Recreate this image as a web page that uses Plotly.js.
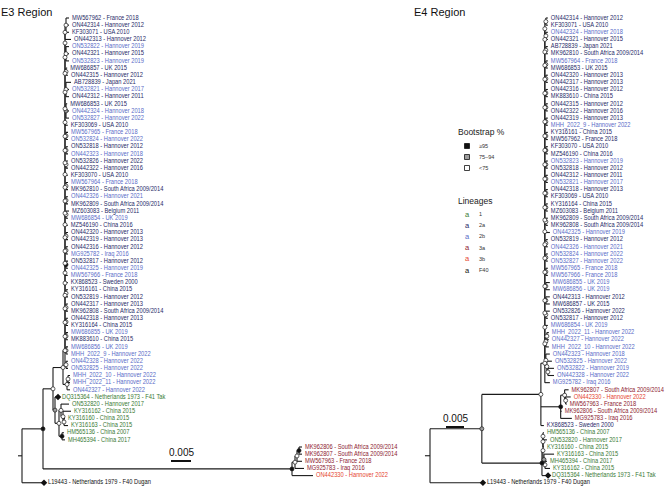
<!DOCTYPE html>
<html><head><meta charset="utf-8">
<script src="https://cdn.plot.ly/plotly-3.0.1.min.js"></script>
<style>html,body{margin:0;padding:0;background:#fff}#chart{width:666px;height:486px}</style>
</head><body><div id="chart"></div>
<script>
// ---------------- DATA ----------------
const accessions = [
 "ON442314","KF303071","ON442313","ON442321","MW686857","ON442315","AB728839","ON442312","MW686853","KF303069",
 "ON532818","ON532826","ON442322","KF303070","MK962810","MK962809","MZ603083","MZ546190","ON442320","ON442319",
 "ON442316","ON532817","KX868523","KY316161","ON532819","ON442317","MK962808","ON442318","KY316164","MK883610","MW567962",
 "ON532822","ON532823","ON532821","ON442324","ON532827","MW567965","ON532824","ON442323","MW567964","ON442326",
 "MW686854","MG925782","ON442325","MW567966","MW686855","MW686856","MHH_2022_9","ON442328","ON532825","MHH_2022_10",
 "MHH_2022_11","ON442327",
 "DQ315364","ON532820","KY316162","KY316160","KY316163","HM565136","MH465394",
 "MK962806","MK962807","MW567963","MG925783","ON442330","L19443"
];
const origins = [
 "Hannover 2012","USA 2010","Hannover 2012","Hannover 2015","UK 2015","Hannover 2012","Japan 2021","Hannover 2011","UK 2015","USA 2010",
 "Hannover 2012","Hannover 2022","Hannover 2016","USA 2010","South Africa 2009/2014","South Africa 2009/2014","Belgium 2011","China 2016","Hannover 2013","Hannover 2013",
 "Hannover 2012","Hannover 2012","Sweden 2000","China 2015","Hannover 2012","Hannover 2013","South Africa 2009/2014","Hannover 2013","China 2015","China 2015","France 2018",
 "Hannover 2019","Hannover 2019","Hannover 2017","Hannover 2018","Hannover 2022","France 2018","Hannover 2022","Hannover 2018","France 2018","Hannover 2021",
 "UK 2019","Iraq 2016","Hannover 2019","France 2018","UK 2019","UK 2019","Hannover 2022","Hannover 2022","Hannover 2022","Hannover 2022",
 "Hannover 2022","Hannover 2022",
 "Netherlands 1973 - F41 Tak","Hannover 2017","China 2015","China 2015","China 2015","China 2007","China 2017",
 "South Africa 2009/2014","South Africa 2009/2014","France 2018","Iraq 2016","Hannover 2022","Netherlands 1979 - F40 Dugan"
];
const lineages = [
 "2a","2a","2a","2a","2a","2a","2a","2a","2a","2a",
 "2a","2a","2a","2a","2a","2a","2a","2a","2a","2a",
 "2a","2a","2a","2a","2a","2a","2a","2a","2a","2a","2a",
 "2b","2b","2b","2b","2b","2b","2b","2b","2b","2b",
 "2b","2b","2b","2b","2b","2b","2b","2b","2b","2b",
 "2b","2b",
 "1","1","1","1","1","1","1",
 "3a","3a","3a","3a","3b","F40"
];
const lineageNames = ["1","2a","2b","3a","3b","F40"];
const supportNames = ["≥95","75–94","<75"];
const referenceStrains = ["DQ315364","L19443"];
const scaleBarLength = 0.005;

// E3 tree: backbone comb of clade 2 (top to bottom), rest as Newick (H ≥95, M 75–94, L <75)
const e3Backbone = [
 "(MW567962:0.00075,ON442314:0.00075,KF303071:0.00075)L:0.00025",
 "ON442313:0.0015",
 "(ON532822:0.00075,ON442321:0.00075,ON532823:0.00075)L:0.00025",
 "(MW686857:0.0003,ON442315:0.0005)L:0.00025",
 "(AB728839:0.00125,ON532821:0.00075,ON442312:0.00075)L:0.00025",
 "(MW686853:0.0003,ON442324:0.00075,ON532827:0.00075)M:0.00025",
 "KF303069:0.0007",
 "(MW567965:0.0005,ON532824:0.0005)L:0.00025",
 "(ON532818:0.0005,ON442323:0.0005)L:0.00025",
 "(ON532826:0.0005,ON442322:0.0005)L:0.00025",
 "KF303070:0.0007",
 "(MW567964:0.0005,MK962810:0.0005)L:0.00025",
 "(ON442326:0.0005,MK962809:0.0005)L:0.00025",
 "(MZ603083:0.00075,MW686854:0.0005)L:0.00025",
 "MZ546190:0.0007",
 "(ON442320:0.0005,ON442319:0.0005)L:0.00025",
 "(ON442316:0.0005,MG925782:0.0005)L:0.00025",
 "(ON532817:0.0005,ON442325:0.0005)H:0.00025",
 "MW567966:0.0007",
 "KX868523:0.0007",
 "(KY316161:0.0005,ON532819:0.0005)L:0.00025",
 "(ON442317:0.0005,MK962808:0.0005)L:0.00025",
 "(ON442318:0.0005,KY316164:0.0005)L:0.00025",
 "(MW686855:0.0005,MK883610:0.0005)L:0.00025",
 "(MW686856:0.0005,MHH_2022_9:0.0005)L:0.00025",
 "(ON442328:0.0005,ON532825:0.0005)L:0.00025"
];
const e3Newick =
 "(((({BACKBONE:0.0005},((MHH_2022_10:0.0005,MHH_2022_11:0.0005)L:0.00025,ON442327:0.00075)L:0.001)L:0.0025," +
 "(DQ315364:0.00075,((ON532820:0.002,(KY316162:0.002,(KY316160:0.00025,KY316163:0.001)L:0.00025)L:0.0005)L:0.0005," +
 "(HM565136:0.0005,MH465394:0.00075)H:0.00075)L:0.001)M:0.0005)L:0.0025," +
 "((((MK962806:0.00075,MK962807:0.00075)H:0.0005,MW567963:0.00125)L:0.0005,MG925783:0.00225)L:0.00075,ON442330:0.00525)H:0.06225)H:0.00525," +
 "L19443:0.0055):0.001;";

// E4 tree
const e4Backbone = [
 "(ON442314:0.00056,KF303071:0.00056)L:0.00028",
 "(ON442324:0.00056,ON442321:0.00056)L:0.00028",
 "(AB728839:0.00056,MK962810:0.00056)L:0.00028",
 "(MW567964:0.00056,MW686853:0.00056)L:0.00028",
 "(ON442320:0.00056,ON442317:0.00056)L:0.00028",
 "(ON442316:0.00056,MK883610:0.00056)L:0.00028",
 "(ON442315:0.00056,ON442322:0.00056)L:0.00028",
 "(ON442319:0.00056,MHH_2022_9:0.00056)L:0.00028",
 "(KY316161:0.00056,MW567962:0.00056)L:0.00028",
 "(KF303070:0.00056,MZ546190:0.00056)M:0.00028",
 "(ON532823:0.00056,ON532818:0.00056)L:0.00028",
 "(ON442312:0.00056,ON532821:0.00056)L:0.00028",
 "(ON442318:0.00056,KF303069:0.00056)L:0.00028",
 "(KY316164:0.00056,MZ603083:0.00056)L:0.00028",
 "(MK962809:0.00056,MK962808:0.00056)L:0.00028",
 "ON442325:0.0014",
 "(ON532819:0.00056,ON442326:0.00056)L:0.00028",
 "(ON532824:0.00056,ON532827:0.00056)L:0.00028",
 "(MW567965:0.00056,MW567966:0.00056)L:0.00028",
 "(MW686855:0.0011,MW686856:0.0011)L:0.00028",
 "(ON442313:0.0011,MW686857:0.0011)L:0.00028",
 "(ON532826:0.0011,ON532817:0.00056)L:0.00028",
 "MW686854:0.00083",
 "((MHH_2022_11:0.00056,ON442327:0.00056)L:0.00028,MHH_2022_10:0.00083)L:0.00028",
 "(ON442323:0.0011,(ON532825:0.0014,(ON532822:0.0017,ON442328:0.0017)L:0.00028)L:0.00028)L:0.00028",
 "MG925782:0.0014"
];
const e4Newick =
 "((({BACKBONE:0.0011}," +
 "((MK962807:0.0011,(ON442330:0.0014,MW567963:0.00028)L:0.00028)L:0.0011,MK962806:0.00028,MG925783:0.0031)H:0.0055," +
 "KX868523:0.00083)L:0.0164," +
 "((((HM565136:0.00028,ON532820:0.0011)L:0,KY316160:0.00028)L:0,(KY316163:0.0028,(MH465394:0.00056,KY316162:0.0014)L:0.00028)M:0.00028)L:0.00028," +
 "DQ315364:0.0017)H:0.0167)M:0.0144," +
 "L19443:0.0147):0.0014;";

// ---------------- STYLE / LAYOUT ----------------
const W = 666, H = 486;
const lineageColor = {"1":"#3a7a35","2a":"#272a68","2b":"#5a6cc8","3a":"#8d2230","3b":"#e5452f","F40":"#111111"};
const supportColor = {H:"#111111", M:"#9d9d9d", L:"#ffffff"};
const labelFont = "Liberation Sans, Arial, Helvetica, sans-serif";
const textFont = "Liberation Sans, Arial, Helvetica, sans-serif";
const labelSize = 7, labelSqueeze = 0.82;
const tipTop = 18, tipStep = 7.15;
const trees = [
 {name:"E3 Region", newick:e3Newick, backbone:e3Backbone, pxPerUnit:4000, rootPx:22, xa:"x", titlePx:0, barPx:171, barY:461, barTextY:452},
 {name:"E4 Region", newick:e4Newick, backbone:e4Backbone, pxPerUnit:3600, rootPx:430, xa:"x2", titlePx:413, barPx:446, barY:427, barTextY:418}
];

function buildLadder(groups, outerBl){
  let s = groups[0];
  for(let i=1;i<groups.length;i++){
    s = "(" + s + "," + groups[i] + ")L" + (i < groups.length-1 ? ":0" : ":" + outerBl);
  }
  return s;
}
function parseNewick(str){
  const s = str.replace(/\s+/g,"");
  let i = 0;
  function node(){
    const n = {children:[], name:"", bl:0};
    if(s[i] === "("){
      i++;
      n.children.push(node());
      while(s[i] === ","){ i++; n.children.push(node()); }
      if(s[i] !== ")") throw new Error("Bad newick at " + i + ": " + s.slice(i, i+20));
      i++;
    }
    let st = i;
    while(i < s.length && !":,();".includes(s[i])) i++;
    n.name = s.slice(st, i);
    if(s[i] === ":"){
      i++; st = i;
      while(i < s.length && !",();".includes(s[i])) i++;
      n.bl = parseFloat(s.slice(st, i));
    }
    return n;
  }
  return node();
}

const traces = [];
const annotations = [];
const shapes = [];
const layoutAxes = {};
const pxX = px => px / W, pxY = py => 1 - py / H;

trees.forEach((t, ti) => {
  const nw = t.newick.replace(/\{BACKBONE:([0-9.]+)\}/, (m, bl) => buildLadder(t.backbone, bl));
  const root = parseNewick(nw);
  const tips = [], internals = [];
  let count = 0;
  (function walk(n, x){
    n.x = x;
    if(!n.children.length){ n.y = count++; tips.push(n); }
    else {
      n.children.forEach(c => walk(c, x + c.bl));
      n.y = (n.children[0].y + n.children[n.children.length-1].y) / 2;
      internals.push(n);
    }
  })(root, 0);

  // edges
  const ex = [], ey = [];
  ex.push(-root.bl, 0, null); ey.push(root.y, root.y, null);
  internals.forEach(n => {
    const a = n.children[0], b = n.children[n.children.length-1];
    ex.push(n.x, n.x, null); ey.push(a.y, b.y, null);
    n.children.forEach(c => { ex.push(n.x, c.x, null); ey.push(c.y, c.y, null); });
  });
  traces.push({type:"scatter", mode:"lines", x:ex, y:ey, xaxis:t.xa, yaxis:"y",
    line:{color:"#1a1a1a", width:1.1}, hoverinfo:"skip", showlegend:false, cliponaxis:false});

  // node support markers
  const nodes = internals.filter(n => n !== root && supportColor[n.name]);
  traces.push({type:"scatter", mode:"markers", x:nodes.map(n=>n.x), y:nodes.map(n=>n.y), xaxis:t.xa, yaxis:"y",
    marker:{symbol:"circle", size:4, color:nodes.map(n=>supportColor[n.name]), line:{color:"#1a1a1a", width:0.7}},
    hoverinfo:"skip", showlegend:false, cliponaxis:false});

  // reference strain tips
  const refs = tips.filter(n => referenceStrains.includes(n.name));
  traces.push({type:"scatter", mode:"markers", x:refs.map(n=>n.x), y:refs.map(n=>n.y), xaxis:t.xa, yaxis:"y",
    marker:{symbol:"diamond", size:5, color:"#111"}, hoverinfo:"skip", showlegend:false, cliponaxis:false});

  // tip labels
  const gap = n => (referenceStrains.includes(n.name) ? 4 : 3) / t.pxPerUnit;
  const idx = n => accessions.indexOf(n.name);
  traces.push({type:"scatter", mode:"text", x:tips.map(n=>n.x + gap(n)), y:tips.map(n=>n.y), xaxis:t.xa, yaxis:"y",
    text:tips.map(n => n.name + " - " + origins[idx(n)]), textposition:"middle right",
    textfont:{family:labelFont, size:labelSize, color:tips.map(n => lineageColor[lineages[idx(n)]])},
    hoverinfo:"skip", showlegend:false, cliponaxis:false});

  const key = ti === 0 ? "xaxis" : "xaxis2";
  layoutAxes[key] = {domain:[0,1], range:[-t.rootPx / t.pxPerUnit, (W - t.rootPx) / t.pxPerUnit],
    visible:false, showgrid:false, zeroline:false, fixedrange:true, anchor:"y"};
  if(ti === 1) layoutAxes[key].overlaying = "x";

  // title
  annotations.push({text:t.name, xref:"paper", yref:"paper", x:pxX(t.titlePx), y:pxY(12), xanchor:"left", yanchor:"middle",
    showarrow:false, font:{family:textFont, size:11, color:"#111"}, borderpad:0});
  // scale bar
  const b0 = (t.barPx - t.rootPx) / t.pxPerUnit;
  shapes.push({type:"line", xref:t.xa, yref:"paper", x0:b0, x1:b0 + scaleBarLength, y0:pxY(t.barY), y1:pxY(t.barY),
    line:{color:"#111", width:2}});
  annotations.push({text:String(scaleBarLength), xref:t.xa, yref:"paper", x:b0 + scaleBarLength/2, y:pxY(t.barTextY),
    xanchor:"center", yanchor:"middle", showarrow:false, font:{family:textFont, size:10, color:"#111"}, borderpad:0});
});

// legend
const legX = 457, symX = 467, labX = 478;
annotations.push({text:"Bootstrap %", xref:"paper", yref:"paper", x:pxX(legX), y:pxY(132), xanchor:"left", yanchor:"middle",
  showarrow:false, font:{family:textFont, size:8.5, color:"#222"}, borderpad:0});
const supKeys = ["H","M","L"];
supportNames.forEach((s, i) => {
  const cy = 146 + i * 11;
  shapes.push({type:"rect", xref:"paper", yref:"paper", x0:pxX(symX-2.5), x1:pxX(symX+2.5), y0:pxY(cy+2.5), y1:pxY(cy-2.5),
    fillcolor:supportColor[supKeys[i]], line:{color:"#111", width:0.8}});
  annotations.push({text:s, xref:"paper", yref:"paper", x:pxX(labX), y:pxY(cy), xanchor:"left", yanchor:"middle",
    showarrow:false, font:{family:textFont, size:5.5, color:"#333"}, borderpad:0});
});
annotations.push({text:"Lineages", xref:"paper", yref:"paper", x:pxX(legX), y:pxY(201), xanchor:"left", yanchor:"middle",
  showarrow:false, font:{family:textFont, size:8.5, color:"#222"}, borderpad:0});
lineageNames.forEach((l, i) => {
  const cy = 214 + i * 11.2;
  annotations.push({text:"a", xref:"paper", yref:"paper", x:pxX(symX), y:pxY(cy), xanchor:"center", yanchor:"middle",
    showarrow:false, font:{family:textFont, size:7.5, color:lineageColor[l]}, borderpad:0});
  annotations.push({text:l, xref:"paper", yref:"paper", x:pxX(labX), y:pxY(cy), xanchor:"left", yanchor:"middle",
    showarrow:false, font:{family:textFont, size:5.5, color:"#333"}, borderpad:0});
});

const layout = Object.assign({
  width:W, height:H, margin:{l:0, r:0, t:0, b:0}, paper_bgcolor:"#fff", plot_bgcolor:"rgba(0,0,0,0)",
  showlegend:false, hovermode:false,
  yaxis:{domain:[0,1], range:[(H - tipTop)/tipStep, -tipTop/tipStep], visible:false, showgrid:false, zeroline:false, fixedrange:true},
  annotations:annotations, shapes:shapes
}, layoutAxes);

Plotly.newPlot("chart", traces, layout, {staticPlot:true, displayModeBar:false}).then(gd => {
  // narrow the tip-label glyphs horizontally (reference uses a condensed face), anchored at each label's start
  gd.querySelectorAll(".scatterlayer .textpoint text").forEach(el => {
    const x = parseFloat(el.getAttribute("x")) || 0;
    el.setAttribute("transform", "translate(" + x + ",0) scale(" + labelSqueeze + ",1) translate(" + (-x) + ",0)");
  });
});
</script></body></html>
